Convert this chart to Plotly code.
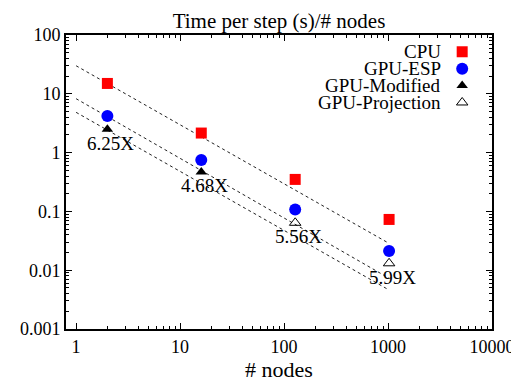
import plotly.graph_objects as go
import math

# ---- data ----
nodes = [2, 16, 128, 1024]
cpu = [15.0, 2.15, 0.35, 0.073]
gpu_esp = [4.2, 0.75, 0.108, 0.0212]
mod_nodes = [2, 16]
gpu_modified = [2.5, 0.47]
proj_nodes = [128, 1024]
gpu_projection = [0.064, 0.0131]
speedup_x = [2, 16, 128, 1024]
speedup_y = [2.5, 0.47, 0.064, 0.0131]
speedup_labels = ["6.25X", "4.68X", "5.56X", "5.99X"]
fit_x = [1, 1024]
fit_cpu = [30.0, 0.0286]
fit_esp = [8.26, 0.0073]
fit_mod = [4.84, 0.0046]
legend_names = ["CPU", "GPU-ESP", "GPU-Modified", "GPU-Projection"]
x_ticks = [1, 10, 100, 1000, 10000]
x_tick_labels = ["1", "10", "100", "1000", "10000"]
y_ticks = [0.001, 0.01, 0.1, 1, 10, 100]
y_tick_labels = ["0.001", "0.01", "0.1", "1", "10", "100"]

x_minor = [m * 10 ** e for e in range(0, 4) for m in range(2, 10)]
y_minor = [m * 10.0 ** e for e in range(-3, 2) for m in range(2, 10)]

FONT = "Liberation Serif"
FS_TICK = 18
FS_TEXT = 19
FS_TITLE = 21

fig = go.Figure()

for fy in (fit_cpu, fit_esp, fit_mod):
    fig.add_trace(go.Scatter(x=fit_x, y=fy, mode="lines",
                             line=dict(color="#222222", width=1, dash="dot"),
                             showlegend=False, hoverinfo="skip"))

fig.add_trace(go.Scatter(x=nodes, y=cpu, mode="markers", name="CPU",
                         marker=dict(symbol="square", size=11, color="#ff0000", line=dict(width=0))))
fig.add_trace(go.Scatter(x=nodes, y=gpu_esp, mode="markers", name="GPU-ESP",
                         marker=dict(symbol="circle", size=12, color="#0000ff", line=dict(width=0))))
fig.add_trace(go.Scatter(x=mod_nodes, y=gpu_modified, mode="markers", name="GPU-Modified",
                         marker=dict(symbol="triangle-up", size=10, color="#000000", line=dict(width=0))))
fig.add_trace(go.Scatter(x=proj_nodes, y=gpu_projection, mode="markers", name="GPU-Projection",
                         marker=dict(symbol="triangle-up-open", size=10, color="#000000", line=dict(width=1, color="#000000"))))

for xv, yv, t in zip(speedup_x, speedup_y, speedup_labels):
    fig.add_annotation(x=math.log10(xv), y=math.log10(yv), text=t, showarrow=False,
                       xshift=3, yshift=-14,
                       font=dict(family=FONT, size=FS_TEXT, color="#000"))

# manual gnuplot-style key: right-aligned text, symbol on the right
leg_text_x = 0.885
leg_sym_x = 0.930
leg_top = 0.943
leg_step = 0.0575
leg_symbols = [("square", 11, "#ff0000", 0), ("circle", 12, "#0000ff", 0),
               ("triangle-up", 10, "#000000", 0), ("triangle-up-open", 10, "#000000", 1)]
leg_y = [leg_top - i * leg_step for i in range(len(legend_names))]
for name, yy in zip(legend_names, leg_y):
    fig.add_annotation(xref="paper", yref="paper", x=leg_text_x, y=yy, text=name,
                       showarrow=False, xanchor="right", yanchor="middle",
                       font=dict(family=FONT, size=FS_TEXT, color="#000"))
for (sym, sz, col, lw), yy in zip(leg_symbols, leg_y):
    fig.add_trace(go.Scatter(x=[leg_sym_x], y=[yy], xaxis="x2", yaxis="y2", mode="markers",
                             marker=dict(symbol=sym, size=sz, color=col, line=dict(width=lw, color=col)),
                             showlegend=False, hoverinfo="skip"))

def axis_common(minor_vals):
    return dict(showline=True, linecolor="#000", linewidth=2, mirror="allticks",
                ticks="inside", ticklen=6, tickwidth=1, tickcolor="#000",
                showgrid=False, zeroline=False,
                tickfont=dict(family=FONT, size=FS_TICK, color="#000"),
                minor=dict(tickmode="array", tickvals=minor_vals, ticks="inside", ticklen=3,
                           tickwidth=1, tickcolor="#000", showgrid=False))

fig.update_layout(
    width=519, height=381,
    margin=dict(l=52, r=35, t=27, b=60),
    paper_bgcolor="white", plot_bgcolor="white",
    showlegend=False,
    title=dict(text="Time per step (s)/# nodes", xref="paper", x=0.5, xanchor="center",
               yref="container", y=0.985, yanchor="top", pad=dict(t=0, b=0),
               font=dict(family=FONT, size=FS_TITLE, color="#000")),
    xaxis=dict(type="log", range=[math.log10(0.8), 4], tickvals=x_ticks, ticktext=x_tick_labels,
               title=dict(text="# nodes", font=dict(family=FONT, size=FS_TITLE + 1, color="#000"), standoff=2),
               **axis_common(x_minor)),
    yaxis=dict(type="log", range=[-3, 2], tickvals=y_ticks, ticktext=y_tick_labels,
               **axis_common(y_minor)),
    xaxis2=dict(overlaying="x", range=[0, 1], visible=False, fixedrange=True),
    yaxis2=dict(overlaying="y", range=[0, 1], visible=False, fixedrange=True),
)

fig.write_html("out.html")
